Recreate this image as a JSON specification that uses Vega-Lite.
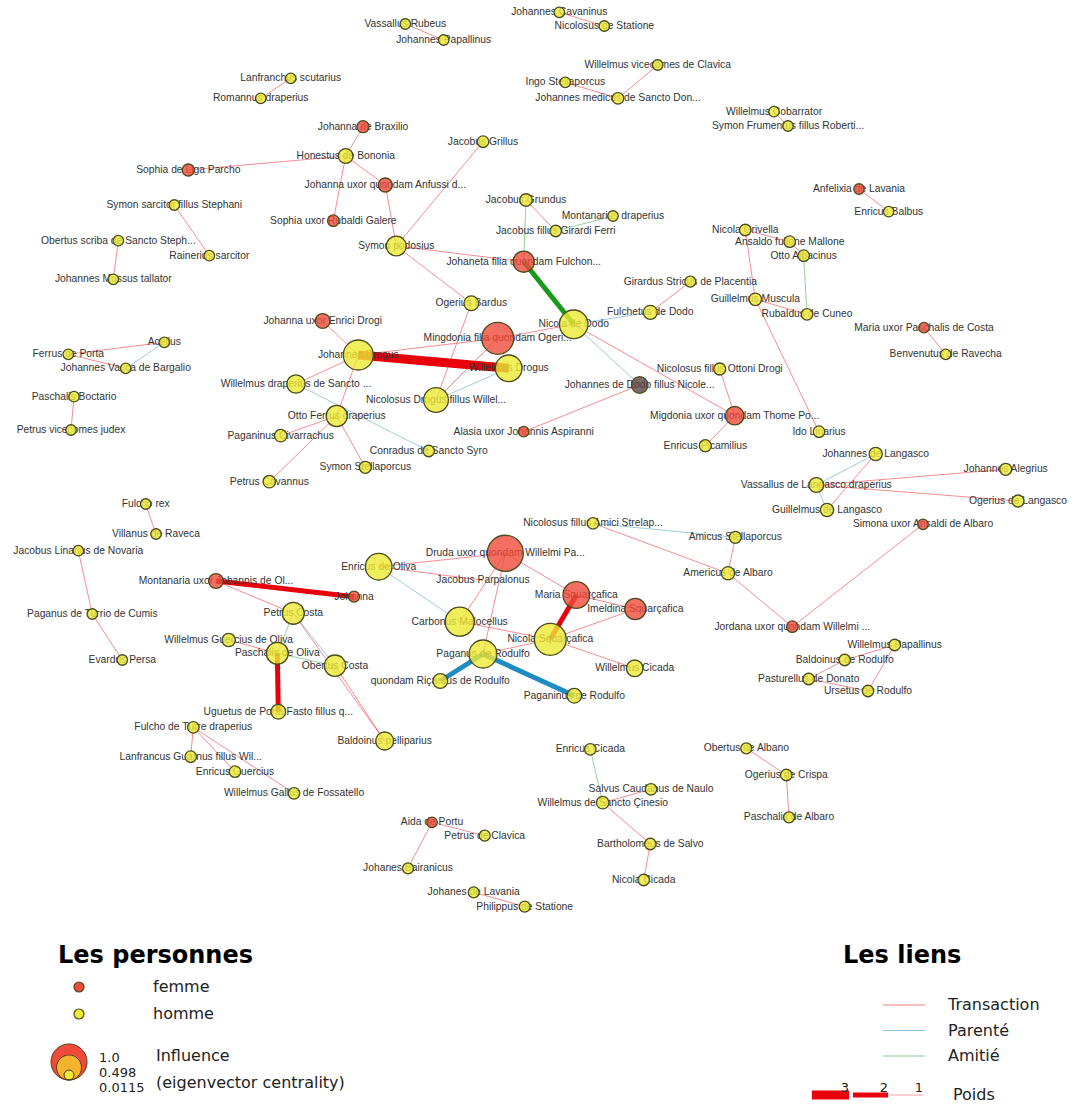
{
  "$schema": "https://vega.github.io/schema/vega-lite/v6.json",
  "width": 1073,
  "height": 1104,
  "padding": 0,
  "autosize": {"type": "none"},
  "background": "white",
  "config": {"view": {"stroke": null}},
  "datasets": {
    "nodes": [
      {"id":"lanf","label":"Lanfranchus scutarius","x":290.7,"y":78.3,"gender":"homme","influence":0.0115},
      {"id":"roma","label":"Romannus draperius","x":260.7,"y":98.3,"gender":"homme","influence":0.0115},
      {"id":"jbrax","label":"Johanna de Braxilio","x":363,"y":126.7,"gender":"femme","influence":0.04},
      {"id":"hone","label":"Honestus de Bononia","x":345.7,"y":156,"gender":"homme","influence":0.1},
      {"id":"sliga","label":"Sophia de Liga Parcho","x":188.3,"y":170,"gender":"femme","influence":0.04},
      {"id":"janf","label":"Johanna uxor quondam Anfussi d...","x":385.3,"y":185,"gender":"femme","influence":0.083},
      {"id":"srub","label":"Sophia uxor Rubaldi Galere","x":333.3,"y":220.7,"gender":"femme","influence":0.03},
      {"id":"ssar","label":"Symon sarcitor fillus Stephani","x":174.3,"y":205,"gender":"homme","influence":0.0115},
      {"id":"rain","label":"Rainerius sarcitor","x":209.3,"y":255.7,"gender":"homme","influence":0.0115},
      {"id":"obsc","label":"Obertus scriba de Sancto Steph...","x":118.3,"y":240.7,"gender":"homme","influence":0.0115},
      {"id":"jmus","label":"Johannes Mussus tallator","x":113.3,"y":279.3,"gender":"homme","influence":0.0115},
      {"id":"vrub","label":"Vassallus Rubeus","x":405.3,"y":24,"gender":"homme","influence":0.0115},
      {"id":"jpap","label":"Johannes Papallinus","x":443.7,"y":40,"gender":"homme","influence":0.0115},
      {"id":"jcav","label":"Johannes Cavaninus","x":559.3,"y":12.3,"gender":"homme","influence":0.0115},
      {"id":"nsta","label":"Nicolosus de Statione","x":604.3,"y":26,"gender":"homme","influence":0.0115},
      {"id":"wvic","label":"Willelmus vicecomes de Clavica","x":657.7,"y":65,"gender":"homme","influence":0.0115},
      {"id":"ingo","label":"Ingo Stellaporcus","x":565.3,"y":82.3,"gender":"homme","influence":0.0115},
      {"id":"jmed","label":"Johannes medicus de Sancto Don...","x":618,"y":98.3,"gender":"homme","influence":0.03},
      {"id":"jgri","label":"Jacobus Grillus","x":483,"y":141.7,"gender":"homme","influence":0.03},
      {"id":"spod","label":"Symon podosius","x":396.3,"y":246,"gender":"homme","influence":0.25},
      {"id":"jgru","label":"Jacobus Grundus","x":526,"y":200,"gender":"homme","influence":0.05},
      {"id":"mdra","label":"Montanarius draperius","x":613,"y":216,"gender":"homme","influence":0.0115},
      {"id":"jgir","label":"Jacobus fillus Girardi Ferri","x":555.7,"y":231,"gender":"homme","influence":0.03},
      {"id":"jful","label":"Johaneta filia quondam Fulchon...","x":523.7,"y":261.7,"gender":"femme","influence":0.29},
      {"id":"gstr","label":"Girardus Stricus de Placentia","x":690.3,"y":281.7,"gender":"homme","influence":0.02},
      {"id":"ober","label":"Ogerius Bardus","x":471.3,"y":303.3,"gender":"homme","influence":0.1},
      {"id":"fdod","label":"Fulchetus de Dodo","x":650.3,"y":312.3,"gender":"homme","influence":0.083},
      {"id":"wcob","label":"Willelmus Cobarrator","x":774,"y":111.7,"gender":"homme","influence":0.0115},
      {"id":"sfru","label":"Symon Frumentus fillus Roberti...","x":788,"y":126,"gender":"homme","influence":0.0115},
      {"id":"anfe","label":"Anfelixia de Lavania","x":859,"y":189,"gender":"femme","influence":0.0115},
      {"id":"ebal","label":"Enricus Balbus","x":888.7,"y":211.7,"gender":"homme","influence":0.0115},
      {"id":"ngri","label":"Nicola Grivella","x":745.3,"y":230,"gender":"homme","influence":0.03},
      {"id":"ansa","label":"Ansaldo fullone Mallone","x":789.7,"y":241.7,"gender":"homme","influence":0.03},
      {"id":"otto","label":"Otto Albacinus","x":803.7,"y":255.7,"gender":"homme","influence":0.03},
      {"id":"gmus","label":"Guillelmus Muscula","x":755.3,"y":299.3,"gender":"homme","influence":0.05},
      {"id":"rcun","label":"Rubaldus de Cuneo","x":807,"y":314.3,"gender":"homme","influence":0.03},
      {"id":"acel","label":"Acellus","x":164.3,"y":342.3,"gender":"homme","influence":0.0115},
      {"id":"fpor","label":"Ferrus de Porta","x":68.3,"y":354.3,"gender":"homme","influence":0.0115},
      {"id":"jvac","label":"Johannes Vacca de Bargalio","x":125.7,"y":368.3,"gender":"homme","influence":0.0115},
      {"id":"pboc","label":"Paschalis Boctario","x":74,"y":396.7,"gender":"homme","influence":0.0115},
      {"id":"pvic","label":"Petrus vicecomes judex","x":71,"y":430,"gender":"homme","influence":0.0115},
      {"id":"jenr","label":"Johanna uxor Enrici Drogi","x":322.7,"y":321,"gender":"femme","influence":0.1},
      {"id":"jdro","label":"Johannes Drogus","x":358.3,"y":355,"gender":"homme","influence":0.67},
      {"id":"wdsa","label":"Willelmus draperius de Sancto ...","x":296,"y":384,"gender":"homme","influence":0.2},
      {"id":"ofer","label":"Otto Ferrus draperius","x":336.7,"y":416,"gender":"homme","influence":0.29},
      {"id":"pciv","label":"Paganinus Civarrachus","x":280.7,"y":435.7,"gender":"homme","influence":0.05},
      {"id":"pcav","label":"Petrus Cavannus","x":269.3,"y":481.7,"gender":"homme","influence":0.05},
      {"id":"sste","label":"Symon Stellaporcus","x":365.3,"y":467.3,"gender":"homme","influence":0.04},
      {"id":"csyr","label":"Conradus de Sancto Syro","x":428.7,"y":451,"gender":"homme","influence":0.03},
      {"id":"ndod","label":"Nicola de Dodo","x":573.7,"y":324.3,"gender":"homme","influence":0.6},
      {"id":"ming","label":"Mingdonia filia quondam Ogeri...","x":497.7,"y":338.3,"gender":"femme","influence":0.77},
      {"id":"wdro","label":"Willelmus Drogus","x":508.7,"y":368.3,"gender":"homme","influence":0.51},
      {"id":"ndro","label":"Nicolosus Drogus fillus Willel...","x":436,"y":400,"gender":"homme","influence":0.43},
      {"id":"jdod","label":"Johannes de Dodo fillus Nicole...","x":639.7,"y":385,"gender":"inconnu","influence":0.15},
      {"id":"alas","label":"Alasia uxor Johannis Aspiranni","x":523.7,"y":431.7,"gender":"femme","influence":0.0115},
      {"id":"nott","label":"Nicolosus fillus Ottoni Drogi","x":719.7,"y":369,"gender":"homme","influence":0.04},
      {"id":"migd","label":"Migdonia uxor quondam Thome Po...","x":734.7,"y":415.7,"gender":"femme","influence":0.2},
      {"id":"epic","label":"Enricus Picamilius","x":705.3,"y":445.7,"gender":"homme","influence":0.04},
      {"id":"nami","label":"Nicolosus fillus Amici Strelap...","x":593,"y":523.3,"gender":"homme","influence":0.03},
      {"id":"amic","label":"Amicus Stellaporcus","x":735.3,"y":537.3,"gender":"homme","influence":0.04},
      {"id":"drud","label":"Druda uxor quondam Willelmi Pa...","x":505.3,"y":553.3,"gender":"femme","influence":1.0},
      {"id":"eoli","label":"Enricus de Oliva","x":378.7,"y":566.7,"gender":"homme","influence":0.51},
      {"id":"jpar","label":"Jacobus Parpalonus","x":483,"y":580.3,"gender":"homme","influence":0},
      {"id":"msqu","label":"Maria Squarçafica","x":576.3,"y":595,"gender":"femme","influence":0.51},
      {"id":"imel","label":"Imeldina Squarçafica","x":635.3,"y":609,"gender":"femme","influence":0.29},
      {"id":"amer","label":"Americus de Albaro","x":728,"y":573.3,"gender":"homme","influence":0.065},
      {"id":"mpas","label":"Maria uxor Paschalis de Costa","x":924,"y":327.7,"gender":"femme","influence":0.0115},
      {"id":"benv","label":"Benvenutus de Ravecha","x":945.7,"y":354.3,"gender":"homme","influence":0.0115},
      {"id":"idol","label":"Ido Linarius","x":819,"y":431.7,"gender":"homme","influence":0.03},
      {"id":"jlan","label":"Johannes de Langasco","x":875.7,"y":454,"gender":"homme","influence":0.065},
      {"id":"jale","label":"Johannes Alegrius","x":1005.7,"y":469.3,"gender":"homme","influence":0.04},
      {"id":"vlan","label":"Vassallus de Langasco draperius","x":816.3,"y":485,"gender":"homme","influence":0.1},
      {"id":"olan","label":"Ogerius de Langasco","x":1018,"y":501,"gender":"homme","influence":0.04},
      {"id":"glan","label":"Guillelmus de Langasco","x":827,"y":510,"gender":"homme","influence":0.065},
      {"id":"simo","label":"Simona uxor Ansaldi de Albaro","x":923,"y":524.3,"gender":"femme","influence":0.0115},
      {"id":"jord","label":"Jordana uxor quondam Willelmi ...","x":792.3,"y":626.7,"gender":"femme","influence":0.03},
      {"id":"fulr","label":"Fulcho rex","x":145.7,"y":504,"gender":"homme","influence":0.0115},
      {"id":"vill","label":"Villanus de Raveca","x":156,"y":534,"gender":"homme","influence":0.0115},
      {"id":"jlin","label":"Jacobus Linarius de Novaria","x":78.3,"y":550.7,"gender":"homme","influence":0.0115},
      {"id":"mont","label":"Montanaria uxor Johannis de Ol...","x":216,"y":581,"gender":"femme","influence":0.1},
      {"id":"joha","label":"Johanna","x":354,"y":596.7,"gender":"femme","influence":0.02},
      {"id":"pcos","label":"Petrus Costa","x":293.3,"y":613.3,"gender":"homme","influence":0.32},
      {"id":"ptur","label":"Paganus de Turrio de Cumis","x":92.3,"y":614,"gender":"homme","influence":0.0115},
      {"id":"evar","label":"Evardus Persa","x":122.3,"y":660,"gender":"homme","influence":0.0115},
      {"id":"wgue","label":"Willelmus Guercius de Oliva","x":228.7,"y":640,"gender":"homme","influence":0.065},
      {"id":"poli","label":"Paschalis de Oliva","x":277.3,"y":653.3,"gender":"homme","influence":0.32},
      {"id":"ocos","label":"Obertus Costa","x":335,"y":665.7,"gender":"homme","influence":0.3},
      {"id":"ugue","label":"Uguetus de Porta Fasto fillus q...","x":278.3,"y":711.7,"gender":"homme","influence":0.1},
      {"id":"ftur","label":"Fulcho de Turre draperius","x":193.3,"y":727.3,"gender":"homme","influence":0.03},
      {"id":"lgue","label":"Lanfrancus Guarnus fillus Wil...","x":190.7,"y":756.7,"gender":"homme","influence":0.03},
      {"id":"egue","label":"Enricus Guercius","x":235,"y":771.7,"gender":"homme","influence":0.03},
      {"id":"wgal","label":"Willelmus Gallus de Fossatello","x":294,"y":793.3,"gender":"homme","influence":0.03},
      {"id":"carb","label":"Carbonus Malocellus","x":459.7,"y":621.7,"gender":"homme","influence":0.62},
      {"id":"nsqu","label":"Nicola Squarçafica","x":550.3,"y":639.3,"gender":"homme","influence":0.77},
      {"id":"prod","label":"Paganus de Rodulfo","x":483,"y":654,"gender":"homme","influence":0.57},
      {"id":"wcic","label":"Willelmus Cicada","x":634.7,"y":668.3,"gender":"homme","influence":0.15},
      {"id":"rrod","label":"quondam Riçardus de Rodulfo","x":440.3,"y":681,"gender":"homme","influence":0.1},
      {"id":"pgro","label":"Paganinus de Rodulfo","x":574.3,"y":695.7,"gender":"homme","influence":0.1},
      {"id":"bpel","label":"Baldoinus pelliparius","x":384.7,"y":741,"gender":"homme","influence":0.19},
      {"id":"ecic","label":"Enricus Cicada","x":590.3,"y":749.3,"gender":"homme","influence":0.03},
      {"id":"salv","label":"Salvus Caudanus de Naulo","x":651,"y":789.3,"gender":"homme","influence":0.03},
      {"id":"wsci","label":"Willelmus de Sancto Çinesio","x":602.7,"y":802.7,"gender":"homme","influence":0.05},
      {"id":"aida","label":"Aida de Portu","x":432,"y":822.3,"gender":"femme","influence":0.0115},
      {"id":"pcla","label":"Petrus de Clavica","x":484.7,"y":835.7,"gender":"homme","influence":0.02},
      {"id":"bsal","label":"Bartholomeus de Salvo","x":650.3,"y":844,"gender":"homme","influence":0.03},
      {"id":"jbai","label":"Johanes Bairanicus","x":408,"y":868.3,"gender":"homme","influence":0.02},
      {"id":"ncic","label":"Nicola Cicada","x":643.7,"y":880,"gender":"homme","influence":0.03},
      {"id":"jlav","label":"Johanes de Lavania","x":473.7,"y":892.3,"gender":"homme","influence":0.02},
      {"id":"phil","label":"Philippus de Statione","x":524.7,"y":906.7,"gender":"homme","influence":0.02},
      {"id":"wpap","label":"Willelmus Papallinus","x":894.7,"y":645,"gender":"homme","influence":0.03},
      {"id":"brod","label":"Baldoinus de Rodulfo","x":844.7,"y":660,"gender":"homme","influence":0.03},
      {"id":"past","label":"Pasturellus de Donato","x":808.7,"y":679,"gender":"homme","influence":0.03},
      {"id":"urod","label":"Ursetus de Rodulfo","x":868,"y":691,"gender":"homme","influence":0.03},
      {"id":"oalb","label":"Obertus de Albano","x":746.3,"y":748.3,"gender":"homme","influence":0.02},
      {"id":"ocri","label":"Ogerius de Crispa","x":786.3,"y":775,"gender":"homme","influence":0.03},
      {"id":"palb","label":"Paschalis de Albaro","x":789,"y":817.3,"gender":"homme","influence":0.02}
    ],
    "edges": [
      {"source":"lanf","target":"roma","type":"Transaction","weight":1},
      {"source":"vrub","target":"jpap","type":"Transaction","weight":1},
      {"source":"jcav","target":"nsta","type":"Transaction","weight":1},
      {"source":"ingo","target":"jmed","type":"Transaction","weight":1},
      {"source":"wvic","target":"jmed","type":"Transaction","weight":1},
      {"source":"wcob","target":"sfru","type":"Transaction","weight":1},
      {"source":"hone","target":"jbrax","type":"Transaction","weight":1},
      {"source":"hone","target":"sliga","type":"Transaction","weight":1},
      {"source":"hone","target":"janf","type":"Transaction","weight":1},
      {"source":"hone","target":"srub","type":"Transaction","weight":1},
      {"source":"janf","target":"spod","type":"Transaction","weight":1},
      {"source":"spod","target":"jgri","type":"Transaction","weight":1},
      {"source":"spod","target":"jful","type":"Transaction","weight":1},
      {"source":"spod","target":"ober","type":"Transaction","weight":1},
      {"source":"ssar","target":"rain","type":"Transaction","weight":1},
      {"source":"obsc","target":"jmus","type":"Transaction","weight":1},
      {"source":"jgru","target":"jful","type":"Amitié","weight":1},
      {"source":"jgru","target":"jgir","type":"Transaction","weight":1},
      {"source":"jgir","target":"mdra","type":"Amitié","weight":1},
      {"source":"gstr","target":"fdod","type":"Transaction","weight":1},
      {"source":"fdod","target":"ndod","type":"Parenté","weight":1},
      {"source":"ndod","target":"jdod","type":"Parenté","weight":1},
      {"source":"ndod","target":"migd","type":"Transaction","weight":1},
      {"source":"ndod","target":"ming","type":"Transaction","weight":1},
      {"source":"ming","target":"jdro","type":"Transaction","weight":1},
      {"source":"ming","target":"ndro","type":"Transaction","weight":1},
      {"source":"ober","target":"ndro","type":"Transaction","weight":1},
      {"source":"wdro","target":"ndro","type":"Parenté","weight":1},
      {"source":"jdro","target":"jenr","type":"Transaction","weight":1},
      {"source":"jdro","target":"wdsa","type":"Transaction","weight":1},
      {"source":"jdro","target":"ofer","type":"Transaction","weight":1},
      {"source":"wdsa","target":"csyr","type":"Parenté","weight":1},
      {"source":"ofer","target":"pciv","type":"Transaction","weight":1},
      {"source":"ofer","target":"pcav","type":"Transaction","weight":1},
      {"source":"ofer","target":"sste","type":"Transaction","weight":1},
      {"source":"jdod","target":"alas","type":"Transaction","weight":1},
      {"source":"nott","target":"migd","type":"Transaction","weight":1},
      {"source":"migd","target":"epic","type":"Transaction","weight":1},
      {"source":"ngri","target":"ansa","type":"Transaction","weight":1},
      {"source":"ngri","target":"gmus","type":"Transaction","weight":1},
      {"source":"ansa","target":"otto","type":"Transaction","weight":1},
      {"source":"otto","target":"rcun","type":"Amitié","weight":1},
      {"source":"gmus","target":"rcun","type":"Transaction","weight":1},
      {"source":"gmus","target":"idol","type":"Transaction","weight":1},
      {"source":"anfe","target":"ebal","type":"Transaction","weight":1},
      {"source":"mpas","target":"benv","type":"Transaction","weight":1},
      {"source":"acel","target":"fpor","type":"Transaction","weight":1},
      {"source":"acel","target":"jvac","type":"Parenté","weight":1},
      {"source":"fpor","target":"jvac","type":"Transaction","weight":1},
      {"source":"pboc","target":"pvic","type":"Transaction","weight":1},
      {"source":"fulr","target":"vill","type":"Transaction","weight":1},
      {"source":"jlin","target":"ptur","type":"Transaction","weight":1},
      {"source":"ptur","target":"evar","type":"Transaction","weight":1},
      {"source":"mont","target":"pcos","type":"Transaction","weight":1},
      {"source":"pcos","target":"poli","type":"Amitié","weight":1},
      {"source":"pcos","target":"ocos","type":"Parenté","weight":1},
      {"source":"pcos","target":"bpel","type":"Transaction","weight":1},
      {"source":"ocos","target":"bpel","type":"Transaction","weight":1},
      {"source":"wgue","target":"poli","type":"Transaction","weight":1},
      {"source":"poli","target":"ocos","type":"Amitié","weight":1},
      {"source":"ftur","target":"lgue","type":"Transaction","weight":1},
      {"source":"ftur","target":"egue","type":"Transaction","weight":1},
      {"source":"ftur","target":"wgal","type":"Transaction","weight":1},
      {"source":"eoli","target":"drud","type":"Transaction","weight":1},
      {"source":"eoli","target":"jpar","type":"Transaction","weight":1},
      {"source":"eoli","target":"carb","type":"Parenté","weight":1},
      {"source":"drud","target":"carb","type":"Transaction","weight":1},
      {"source":"drud","target":"prod","type":"Transaction","weight":1},
      {"source":"drud","target":"msqu","type":"Transaction","weight":1},
      {"source":"nami","target":"amic","type":"Parenté","weight":1},
      {"source":"nami","target":"amer","type":"Transaction","weight":1},
      {"source":"amic","target":"amer","type":"Transaction","weight":1},
      {"source":"amer","target":"jord","type":"Transaction","weight":1},
      {"source":"simo","target":"jord","type":"Transaction","weight":1},
      {"source":"msqu","target":"imel","type":"Transaction","weight":1},
      {"source":"imel","target":"nsqu","type":"Transaction","weight":1},
      {"source":"nsqu","target":"wcic","type":"Transaction","weight":1},
      {"source":"nsqu","target":"prod","type":"Transaction","weight":1},
      {"source":"carb","target":"nsqu","type":"Transaction","weight":1},
      {"source":"ecic","target":"wsci","type":"Amitié","weight":1},
      {"source":"salv","target":"wsci","type":"Transaction","weight":1},
      {"source":"wsci","target":"bsal","type":"Transaction","weight":1},
      {"source":"bsal","target":"ncic","type":"Transaction","weight":1},
      {"source":"aida","target":"pcla","type":"Transaction","weight":1},
      {"source":"aida","target":"jbai","type":"Transaction","weight":1},
      {"source":"jlav","target":"phil","type":"Transaction","weight":1},
      {"source":"wpap","target":"brod","type":"Transaction","weight":1},
      {"source":"wpap","target":"urod","type":"Transaction","weight":1},
      {"source":"brod","target":"past","type":"Transaction","weight":1},
      {"source":"past","target":"urod","type":"Transaction","weight":1},
      {"source":"oalb","target":"ocri","type":"Transaction","weight":1},
      {"source":"ocri","target":"palb","type":"Transaction","weight":1},
      {"source":"jlan","target":"vlan","type":"Parenté","weight":1},
      {"source":"jlan","target":"glan","type":"Transaction","weight":1},
      {"source":"vlan","target":"glan","type":"Parenté","weight":1},
      {"source":"vlan","target":"jale","type":"Transaction","weight":1},
      {"source":"vlan","target":"olan","type":"Transaction","weight":1},
      {"source":"jful","target":"ndod","type":"Amitié","weight":2},
      {"source":"mont","target":"joha","type":"Transaction","weight":2},
      {"source":"poli","target":"ugue","type":"Transaction","weight":2},
      {"source":"msqu","target":"nsqu","type":"Transaction","weight":2},
      {"source":"prod","target":"rrod","type":"Parenté","weight":2},
      {"source":"prod","target":"pgro","type":"Parenté","weight":2},
      {"source":"jdro","target":"wdro","type":"Transaction","weight":3}
    ]
  },
  "layer": [
    {
      "data": {"name": "edges"},
      "transform": [
        {"lookup": "source", "from": {"data": {"name": "nodes"}, "key": "id", "fields": ["x", "y"]}, "as": ["sx", "sy"]},
        {"lookup": "target", "from": {"data": {"name": "nodes"}, "key": "id", "fields": ["x", "y"]}, "as": ["tx", "ty"]}
      ],
      "mark": {"type": "rule"},
      "encoding": {
        "x": {"field": "sx", "type": "quantitative", "scale": {"domain": [0, 1073], "nice": false, "zero": false}, "axis": null},
        "y": {"field": "sy", "type": "quantitative", "scale": {"domain": [0, 1104], "nice": false, "zero": false, "reverse": true}, "axis": null},
        "x2": {"field": "tx"},
        "y2": {"field": "ty"},
        "color": {
          "field": "type", "type": "nominal",
          "scale": {"domain": ["Transaction", "Parenté", "Amitié"], "range": ["#e8000b", "#1e8bc3", "#1a9a1a"]},
          "legend": {
            "title": "Les liens", "orient": "none", "legendX": 843, "legendY": 944, "padding": 0,
            "titleFont": "DejaVu Sans", "titleFontSize": 24, "titleFontWeight": "bold", "titleColor": "#000", "titlePadding": 29, "titleLimit": 500,
            "symbolType": "stroke", "symbolSize": 1764, "symbolStrokeWidth": 1.2, "symbolOffset": 39, "symbolOpacity": 0.5,
            "clipHeight": 16,
            "labelOffset": 22, "labelFont": "DejaVu Sans", "labelFontSize": 16, "labelColor": "#222", "labelLimit": 300, "rowPadding": 9.5
          }
        },
        "strokeWidth": {
          "field": "weight", "type": "quantitative",
          "scale": {"domain": [1, 2, 3], "range": [1, 5, 9]},
          "legend": {
            "title": "Poids", "orient": "none", "legendX": 807, "legendY": 1080, "padding": 0, "direction": "horizontal",
            "values": [3, 2, 1], "titleOrient": "right", "titlePadding": 30, "titleLimit": 300,
            "titleAnchor": "middle", "titleBaseline": "middle",
            "titleFont": "DejaVu Sans", "titleFontSize": 16, "titleFontWeight": "normal", "titleColor": "#222",
            "symbolType": "stroke", "symbolSize": 1616, "clipHeight": 30, "columnPadding": 0,
            "symbolStrokeColor": {"expr": "datum.value > 1 ? '#e8000b' : '#f4a0a6'"},
            "symbolOpacity": 1,
            "format": "d",
            "labelFont": "DejaVu Sans", "labelFontSize": 13, "labelColor": "#222",
            "labelOffset": -12, "labelAlign": "center", "labelBaseline": "bottom"
          }
        },
        "opacity": {"condition": {"test": "datum.weight > 1", "value": 1}, "value": 0.45}
      }
    },
    {
      "data": {"name": "nodes"},
      "mark": {"type": "text", "font": "Liberation Sans", "fontSize": 10.3, "fill": "#333", "align": "center", "baseline": "middle"},
      "encoding": {
        "x": {"field": "x", "type": "quantitative", "scale": {"domain": [0, 1073], "nice": false, "zero": false}, "axis": null},
        "y": {"field": "y", "type": "quantitative", "scale": {"domain": [0, 1104], "nice": false, "zero": false, "reverse": true}, "axis": null},
        "text": {"field": "label"}
      }
    },
    {
      "data": {"name": "nodes"},
      "transform": [{"filter": "datum.influence > 0"}],
      "mark": {"type": "circle", "stroke": "#4b4a1c", "strokeWidth": 1.3, "fillOpacity": 0.8, "strokeOpacity": 1},
      "encoding": {
        "x": {"field": "x", "type": "quantitative", "scale": {"domain": [0, 1073], "nice": false, "zero": false}, "axis": null},
        "y": {"field": "y", "type": "quantitative", "scale": {"domain": [0, 1104], "nice": false, "zero": false, "reverse": true}, "axis": null},
        "fill": {
          "field": "gender", "type": "nominal",
          "scale": {"domain": ["femme", "homme", "inconnu"], "range": ["#f04b3a", "#eeea35", "#5a4545"]},
          "legend": {
            "title": "Les personnes", "orient": "none", "legendX": 58, "legendY": 944, "padding": 0,
            "values": ["femme", "homme"],
            "titleFont": "DejaVu Sans", "titleFontSize": 24, "titleFontWeight": "bold", "titleColor": "#000", "titlePadding": 11, "titleLimit": 500,
            "labelFont": "DejaVu Sans", "labelFontSize": 16, "labelColor": "#222", "labelOffset": 66, "labelLimit": 300,
            "symbolType": "circle", "symbolSize": 100, "symbolOffset": 13, "symbolStrokeColor": "#4b4a1c", "symbolStrokeWidth": 1.2,
            "rowPadding": 11
          }
        },
        "size": {
          "field": "influence", "type": "quantitative",
          "scale": {"domain": [0.0115, 1], "range": [110, 1300], "zero": false},
          "legend": {
            "title": ["Influence", "(eigenvector centrality)"], "orient": "none", "legendX": 50, "legendY": 1043, "padding": 0,
            "values": [1], "titleOrient": "right", "titlePadding": 12, "titleLineHeight": 27, "titleLimit": 500,
            "titleFont": "DejaVu Sans", "titleFontSize": 16, "titleFontWeight": "normal", "titleColor": "#222",
            "labelFont": "DejaVu Sans", "labelFontSize": 13, "labelColor": "#222", "labelOffset": 11, "labelLimit": 300,
            "labelBaseline": "alphabetic",
            "labelExpr": "['1.0', '0.498', '0.0115']",
            "symbolType": "M-1,0A1,1,0,1,1,1,0A1,1,0,1,1,-1,0ZM-0.694,0.306A0.694,0.694,0,1,1,0.694,0.306A0.694,0.694,0,1,1,-0.694,0.306ZM-0.278,0.722A0.278,0.278,0,1,1,0.278,0.722A0.278,0.278,0,1,1,-0.278,0.722Z",
            "symbolStrokeColor": "#5a3a1c", "symbolStrokeWidth": 1, "symbolOpacity": 1,
            "symbolFillColor": {"value": {"gradient": "radial", "x1": 0.5, "y1": 1, "r1": 0, "x2": 0.5, "y2": 0.5, "r2": 0.5,
              "stops": [
                {"offset": 0, "color": "#eeea35"}, {"offset": 0.278, "color": "#eeea35"},
                {"offset": 0.278, "color": "#f5b52a"}, {"offset": 0.694, "color": "#f5b52a"},
                {"offset": 0.694, "color": "#f04b3a"}, {"offset": 1, "color": "#f04b3a"}
              ]}}
          }
        }
      }
    }
  ]
}
